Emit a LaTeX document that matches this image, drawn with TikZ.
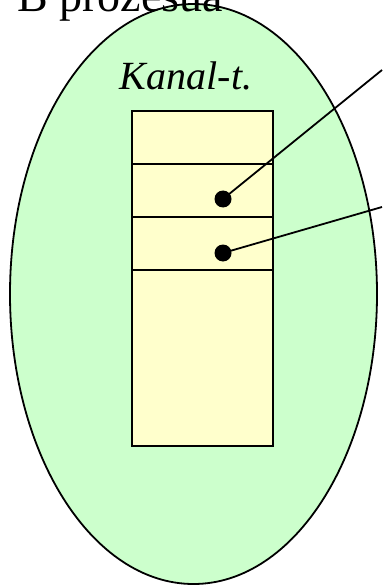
\documentclass[tikz,border=0pt]{standalone}
\usepackage{fontspec}
\setmainfont{Liberation Serif}
\usepackage{xcolor}
\usepackage{tikz}
\usetikzlibrary{shapes,positioning,calc}
\definecolor{procgreen}{RGB}{204,255,204}
\definecolor{slotyellow}{RGB}{255,255,204}

\begin{document}
\begin{tikzpicture}[x=1pt,y=-1pt,
  slot/.style={rectangle, draw, line width=2pt, fill=slotyellow,
    minimum width=141pt, inner sep=0pt, outer sep=0pt},
  ptr/.style={circle, fill=black, inner sep=0pt, minimum size=17pt},
  link/.style={line width=1.8pt}
]
  \useasboundingbox (0,0) rectangle (382,585);

  % Process (ellipse)
  \node[ellipse, draw, line width=1.8pt, fill=procgreen, minimum width=367pt,
    minimum height=580pt, inner sep=0pt, outer sep=0pt] (proc) at (193.5,294) {};
  \node[anchor=base west, inner sep=0pt, font=\fontsize{46}{50}\selectfont]
    (title) at (17,12) {B prozesua};
  \node[anchor=base, inner sep=0pt, font=\itshape\fontsize{40}{44}\selectfont]
    (kanal) at (186,90) {Kanal-t.};

  % Channel table
  \node[slot, minimum height=53pt] (s0) at (202.5,137.5) {};
  \node[slot, minimum height=53pt, below=0pt of s0] (s1) {};
  \node[slot, minimum height=53pt, below=0pt of s1] (s2) {};
  \node[slot, minimum height=176pt, below=0pt of s2] (s3) {};

  % Pointers
  \node[ptr] (p1) at (223,199) {};
  \node[ptr] (p2) at (223,253) {};
  \coordinate (o1) at (382,70);
  \coordinate (o2) at (382,207);
  \draw[link] (p1.center) -- (o1);
  \draw[link] (p2.center) -- (o2);
\end{tikzpicture}
\end{document}
